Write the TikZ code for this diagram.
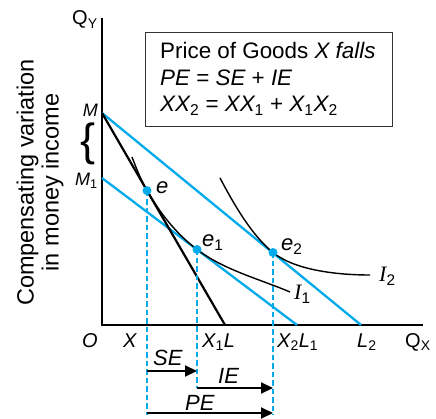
\documentclass[tikz,border=0pt]{standalone}
\usepackage{fontspec}
\setmainfont{Liberation Sans}
\newfontfamily\ifont{Liberation Serif}
\usetikzlibrary{arrows.meta,calc}
\definecolor{cyanb}{RGB}{0,170,235}
\newcommand\myfs[1]{\fontsize{#1}{#1}\selectfont}
\newcommand\sbs[1]{\textsubscript{\rmfamily\upshape #1}}
\begin{document}
\begin{tikzpicture}[x=1pt,y=-1pt,
  axis/.style={line width=2pt},
  bline/.style={cyanb,line width=2.3pt},
  kline/.style={black,line width=2.2pt},
  icurve/.style={black,line width=1.4pt},
  dotline/.style={cyanb,line width=2.4pt,dash pattern=on 5.5pt off 3pt},
  arr/.style={line width=2pt,-{Triangle[length=12pt,width=11pt]}},
  lab/.style={inner sep=0pt,font=\myfs{20}\itshape,anchor=base west},
  dot/.style={circle,fill=cyanb,inner sep=0pt,minimum size=9pt}
]
\useasboundingbox (0,0) rectangle (436,419);
% key points
\coordinate (O) at (102,325);
\coordinate (Yt) at (102,18);
\coordinate (Xe) at (423,325);
\coordinate (M) at (102,113);
\coordinate (M1) at (102,178);
\coordinate (L) at (225,325);
\coordinate (L1) at (297,325);
\coordinate (L2) at (361,325);
\coordinate (e) at (147,190.6);
\coordinate (e1) at (197,249.5);
\coordinate (e2) at (273,252.5);
\coordinate (i1s) at (132,157);
\coordinate (i1e) at (290,292);
\coordinate (i2s) at (220,178);
\coordinate (i2e) at (370,275);
\coordinate (sey) at (0,371);
\coordinate (mid) at (0,388);
\coordinate (pey) at (0,413);
\coordinate (bot) at (0,415);
% axes
\draw[axis] (Yt) -- (O) -- (Xe);
% budget lines
\draw[bline] (M) -- (L2);
\draw[bline] (M1) -- (L1);
\draw[kline] (M) -- (L);
% indifference curves
\draw[icurve] (i1s) .. controls (136.3,168.2) and (141,180.2) .. (e)
  .. controls (160.1,213.1) and (176.2,233.8) .. (e1)
  .. controls (224.1,270) and (258.7,278.7) .. (i1e);
\draw[icurve] (i2s) .. controls (234,204.4) and (251.3,234.8) .. (e2)
  .. controls (294.7,270.2) and (337,275) .. (i2e);
% dashed drops
\draw[dotline] (e) -- (e |- bot);
\draw[dotline] (e1) -- (e1 |- mid);
\draw[dotline] (e2) -- (e2 |- bot);
% effect arrows
\draw[arr] (e |- sey) -- (e1 |- sey);
\draw[arr] (e1 |- mid) -- (e2 |- mid);
\draw[arr] (e |- pey) -- (e2 |- pey);
% dots
\node[dot] (de) at (e) {};
\node[dot] (de1) at (e1) {};
\node[dot] (de2) at (e2) {};
% box
\node[draw=black!80,line width=1.2pt,minimum width=247pt,minimum height=94pt,anchor=north west,inner sep=0pt] (box) at (145,32) {};
\node[lab,font=\myfs{22.4}\upshape] (t1) at (160,59) {Price of Goods \textit{X falls}};
\node[lab,font=\myfs{22.4}\itshape] (t2) at (160,86) {PE {\upshape =} SE {\upshape +} IE};
\node[lab,font=\myfs{22.4}\itshape] (t3) at (160,112) {XX\sbs{2} {\upshape =} XX\sbs{1} {\upshape +} X\sbs{1}X\sbs{2}};
% y-axis title
\node[rotate=90,anchor=base,inner sep=0pt,font=\myfs{23.5}] (yl1) at (33.5,182.5) {Compensating variation};
\node[rotate=90,anchor=base,inner sep=0pt,font=\myfs{23.5}] (yl2) at (58.5,182.5) {in money income};
% labels
\node[lab,font=\myfs{20}\upshape] (lQY) at (72,25) {Q\sbs{Y}};
\node[lab,anchor=base east,font=\myfs{18}\itshape] (lM) at (98,117) {M};
\node[lab,font=\myfs{18}\itshape] (lM1) at (75,186) {M\sbs{1}};
\node[inner sep=0pt,font=\myfs{45}] (brace) at (88.5,144) {\{};
\node[lab,font=\myfs{22}\itshape] (le) at (156,194) {e};
\node[lab,font=\myfs{22}\itshape] (le1) at (202,247) {e\sbs{1}};
\node[lab,font=\myfs{22}\itshape] (le2) at (281,251) {e\sbs{2}};
\node[lab,font=\myfs{22}\ifont\itshape] (lI1) at (294,300) {I\sbs{1}};
\node[lab,font=\myfs{22}\ifont\itshape] (lI2) at (379,282) {I\sbs{2}};
\node[lab] (lO) at (82,347) {O};
\node[lab] (lX) at (123,347) {X};
\node[lab] (lX1L) at (202,347) {X\sbs{1}L};
\node[lab] (lX2L1) at (277,347) {X\sbs{2}L\sbs{1}};
\node[lab] (lL2) at (357,347) {L\sbs{2}};
\node[lab,font=\myfs{20}\upshape] (lQX) at (405,347) {Q\sbs{X}};
\node[lab,font=\myfs{22}\itshape] (lSE) at (153,365) {SE};
\node[lab,font=\myfs{22}\itshape] (lIE) at (218,383) {IE};
\node[lab,font=\myfs{22}\itshape] (lPE) at (185,410) {PE};
\end{tikzpicture}
\end{document}
